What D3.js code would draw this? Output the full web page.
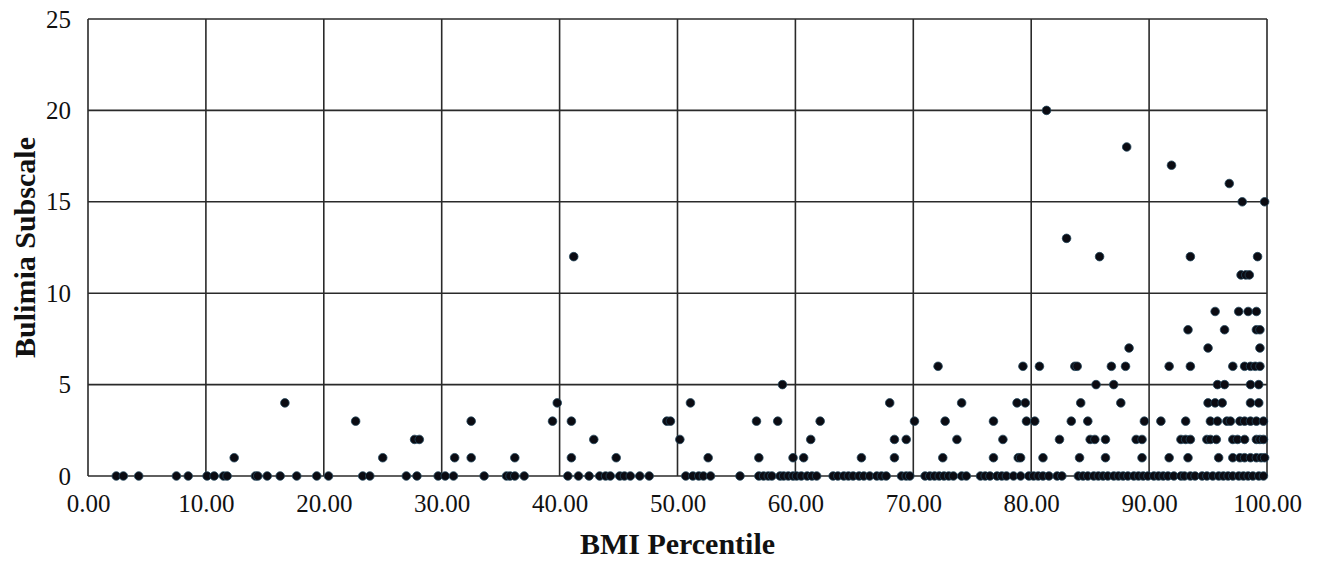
<!DOCTYPE html>
<html>
<head>
<meta charset="utf-8">
<script src="https://cdn.jsdelivr.net/npm/d3@7"></script>
<style>
  body { margin: 0; background: #fff; overflow: hidden; }
  svg { display: block; }
  svg text { font-family: "Liberation Serif", "DejaVu Serif", serif; fill: #111; }
</style>
</head>
<body>
<div id="chart"></div>
<script>
// BMI percentiles of respondents, grouped by their Bulimia subscale score
var bmiScore0 = [2.4, 3.0, 4.3, 7.5, 8.5, 10.1, 10.7, 11.5, 11.8, 14.2, 14.4, 15.2, 16.3, 17.7, 19.4, 20.4,
  23.3, 23.9, 27.0, 27.9, 29.7, 30.3, 31.0, 33.6, 35.5, 35.8, 36.2, 37.0,
  40.7, 41.6, 42.5, 43.4, 43.9, 44.3, 45.1, 45.5, 46.0, 46.8, 47.6,
  50.7, 51.3, 51.8, 52.2, 52.8, 55.3, 56.9, 57.3, 57.7, 58.0,
  58.7, 59.0, 59.4, 59.8, 60.1, 60.5, 61.0, 61.4, 61.8,
  63.2, 63.6, 64.1, 64.5, 64.9, 65.4, 65.8, 66.3, 66.9, 67.3, 67.7, 69.0, 69.4, 69.7,
  71.0, 71.4, 71.8, 72.2, 72.6, 73.0, 73.4, 74.1, 74.5, 75.7, 76.1, 76.5, 77.1, 77.5, 77.9,
  78.5, 79.1, 79.8, 80.2, 80.6, 81.0, 81.5, 82.2, 82.6, 84.0, 84.4, 84.8, 85.3, 85.7, 86.1,
  86.5, 87.0, 87.4, 87.8, 88.2, 88.7, 89.1, 89.5, 89.9, 90.4, 90.8, 91.2, 91.6, 92.1, 92.7,
  93.0, 93.5, 93.9, 94.5, 94.9, 95.4, 95.9, 96.3, 96.7, 97.1, 97.6, 98.0, 98.4, 98.8, 99.3, 99.7];
var bmiScore1 = [12.4, 25.0, 31.1, 32.5, 36.2, 41.0, 44.8, 52.6, 56.9, 59.8, 60.7, 65.6, 68.4, 72.5, 76.8,
  78.9, 79.1, 81.0, 84.1, 86.3, 89.4, 91.7, 93.3, 95.9, 97.1, 97.7, 98.1, 98.6, 99.1, 99.5, 99.8];
var bmiScore2 = [27.7, 28.1, 42.9, 50.2, 61.3, 68.4, 69.4, 73.7, 77.6, 82.4, 85.0, 85.4, 86.3, 88.9, 89.4,
  92.7, 93.1, 93.5, 94.9, 95.2, 95.7, 97.1, 97.5, 98.1, 99.1, 99.4, 99.7];
var bmiScore3 = [22.7, 32.5, 39.4, 41.0, 49.1, 49.4, 56.7, 58.5, 62.1, 70.1, 72.7, 76.8, 79.6, 80.3, 83.4,
  84.8, 89.6, 91.0, 93.1, 95.2, 95.8, 96.6, 96.9, 97.7, 98.1, 98.6, 99.1, 99.7];
var bmiScore4 = [16.7, 39.8, 51.1, 68.0, 74.1, 78.8, 79.5, 84.2, 87.6, 95.0, 95.6, 96.2, 98.6, 99.3];
var bmiScore5 = [58.9, 85.5, 87.0, 95.8, 96.4, 98.6, 99.3];
var bmiScore6 = [72.1, 79.3, 80.7, 83.7, 83.9, 86.8, 88.0, 91.7, 93.5, 97.1, 98.1, 98.6, 99.0, 99.4];
var bmiScore7 = [88.3, 95.0, 99.4];
var bmiScore8 = [93.3, 96.4, 99.1, 99.4];
var bmiScore9 = [95.6, 97.6, 98.4, 99.1];
var bmiScore11 = [97.8, 98.2, 98.5];
var bmiScore12 = [41.2, 85.8, 93.5, 99.2];
var bmiScore13 = [83.0];
var bmiScore15 = [97.9, 99.8];
var bmiScore16 = [96.8];
var bmiScore17 = [91.9];
var bmiScore18 = [88.1];
var bmiScore20 = [81.3];

var scoreLevels = [0, 1, 2, 3, 4, 5, 6, 7, 8, 9, 11, 12, 13, 15, 16, 17, 18, 20];
var bmiByScore = [bmiScore0, bmiScore1, bmiScore2, bmiScore3, bmiScore4, bmiScore5, bmiScore6,
  bmiScore7, bmiScore8, bmiScore9, bmiScore11, bmiScore12, bmiScore13, bmiScore15,
  bmiScore16, bmiScore17, bmiScore18, bmiScore20];

var xTicks = [0, 10, 20, 30, 40, 50, 60, 70, 80, 90, 100];
var yTicks = [0, 5, 10, 15, 20, 25];

// Flatten into points
var Data = [];
for (var i = 0; i < scoreLevels.length; i++) {
  for (var j = 0; j < bmiByScore[i].length; j++) {
    Data.push({ x: bmiByScore[i][j], y: scoreLevels[i] });
  }
}

var W = 1318, H = 562;
var margin = { top: 19, right: 51, bottom: 86, left: 88 },
    width = W - margin.left - margin.right,
    height = H - margin.top - margin.bottom;

var x = d3.scaleLinear().domain([0, 100]).range([0, width]);
var y = d3.scaleLinear().domain([0, 25]).range([height, 0]);

var svg = d3.select("#chart").append("svg")
    .attr("width", W)
    .attr("height", H)
  .append("g")
    .attr("transform", "translate(" + margin.left + "," + margin.top + ")");

// grid lines
svg.selectAll("line.vgrid")
    .data(xTicks)
  .enter().append("line")
    .attr("class", "vgrid")
    .attr("x1", function(d) { return x(d); })
    .attr("x2", function(d) { return x(d); })
    .attr("y1", 0)
    .attr("y2", height)
    .attr("stroke", "#2a2a2a")
    .attr("stroke-width", 1.6);

svg.selectAll("line.hgrid")
    .data(yTicks)
  .enter().append("line")
    .attr("class", "hgrid")
    .attr("x1", 0)
    .attr("x2", width)
    .attr("y1", function(d) { return y(d); })
    .attr("y2", function(d) { return y(d); })
    .attr("stroke", "#2a2a2a")
    .attr("stroke-width", 1.6);

// x axis labels
var xAxis = svg.append("g")
    .attr("transform", "translate(0," + height + ")")
    .call(d3.axisBottom(x).tickValues(xTicks).tickFormat(d3.format(".2f")).tickSize(0).tickPadding(18));
xAxis.select(".domain").remove();
xAxis.selectAll("text")
    .style("font-family", "Liberation Serif, serif")
    .style("font-size", "25px")
    .attr("fill", "#111");

// y axis labels
var yAxis = svg.append("g")
    .call(d3.axisLeft(y).tickValues(yTicks).tickSize(0).tickPadding(17));
yAxis.select(".domain").remove();
yAxis.selectAll("text")
    .style("font-family", "Liberation Serif, serif")
    .style("font-size", "25px")
    .attr("fill", "#111");

// points
svg.selectAll("circle.pt")
    .data(Data)
  .enter().append("circle")
    .attr("class", "pt")
    .attr("cx", function(d) { return x(d.x); })
    .attr("cy", function(d) { return y(d.y); })
    .attr("r", 4.3)
    .attr("fill", "#0b0b12")
    .attr("stroke", "#23465c")
    .attr("stroke-width", 0.8);

// x axis title
svg.append("text")
    .attr("x", width / 2)
    .attr("y", height + 78)
    .style("text-anchor", "middle")
    .style("font-size", "30px")
    .style("font-weight", "bold")
    .text("BMI Percentile");

// y axis title
svg.append("text")
    .attr("transform", "rotate(-90)")
    .attr("x", -height / 2)
    .attr("y", -53)
    .style("text-anchor", "middle")
    .style("font-size", "30px")
    .style("font-weight", "bold")
    .text("Bulimia Subscale");
</script>
</body>
</html>
